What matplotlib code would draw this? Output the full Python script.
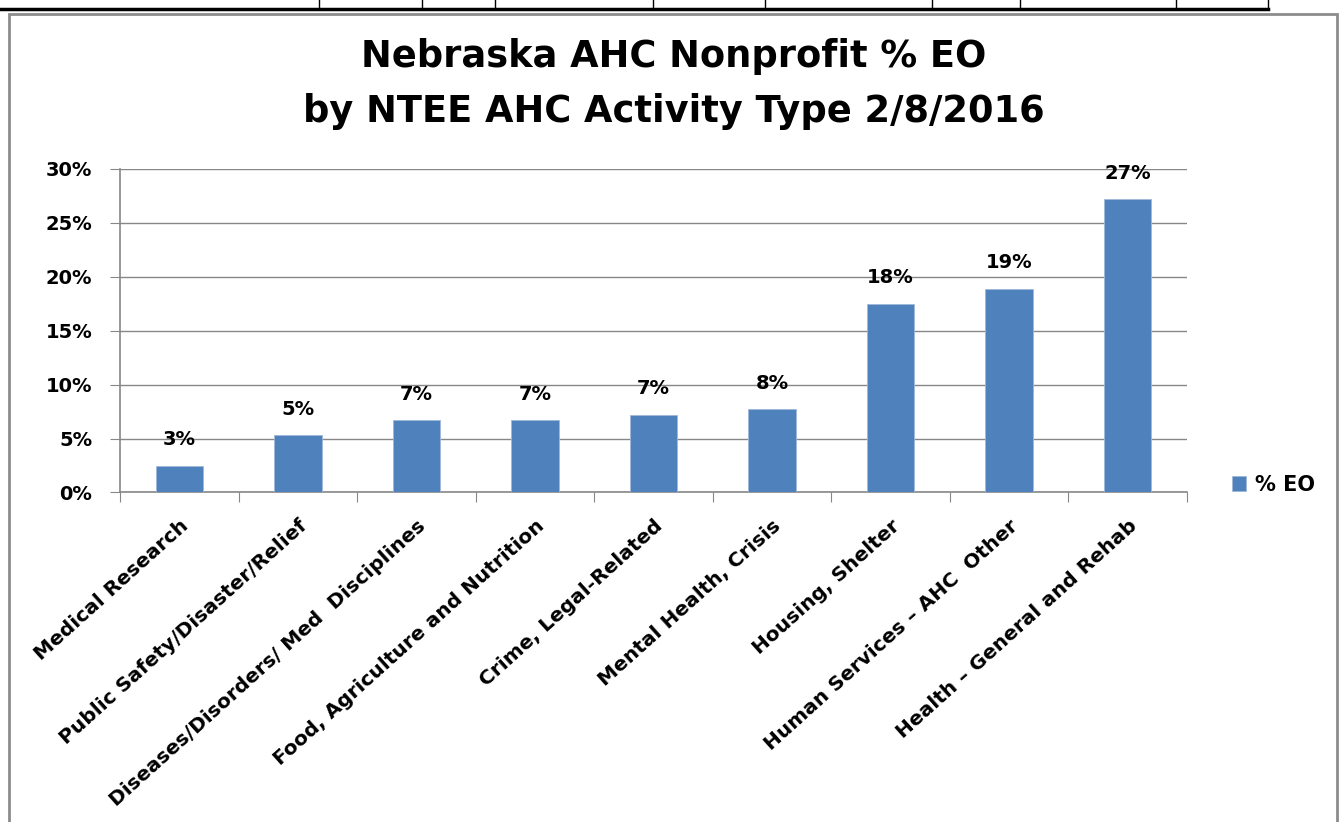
import matplotlib
matplotlib.use('Agg')
from matplotlib import pyplot as plt
from matplotlib.lines import Line2D
from matplotlib.patches import Rectangle
from matplotlib.ticker import FuncFormatter, MultipleLocator

CATEGORIES = ['Medical Research', 'Public Safety/Disaster/Relief',
              'Diseases/Disorders/ Med  Disciplines', 'Food, Agriculture and Nutrition',
              'Crime, Legal-Related', 'Mental Health, Crisis', 'Housing, Shelter',
              'Human Services \u2013 AHC  Other', 'Health \u2013 General and Rehab']
PCT_EO = [2.5, 5.3, 6.7, 6.7, 7.2, 7.7, 17.5, 18.9, 27.2]
BAR_LABELS = ['3%', '5%', '7%', '7%', '7%', '8%', '18%', '19%', '27%']
TITLE = ['Nebraska AHC Nonprofit % EO', 'by NTEE AHC Activity Type 2/8/2016']

BAR_COLOR = '#4F81BD'
GRID_COLOR = '#878787'

plt.rcParams['font.family'] = ['DejaVu Sans']


def draw_frame(fig):
    # spreadsheet cell lines above the chart
    fig.add_artist(Line2D([0, 1268 / 1344], [1 - 9 / 822, 1 - 9 / 822],
                          color='black', lw=2.5, transform=fig.transFigure))
    for x in [319, 422, 495, 653, 765, 932, 1020, 1176, 1268]:
        fig.add_artist(Line2D([x / 1344, x / 1344], [1, 1 - 9 / 822],
                              color='black', lw=1, transform=fig.transFigure))
    # chart border
    fig.add_artist(Rectangle((9 / 1344, -0.05), 1328 / 1344, 1.05 - 14 / 822,
                             fill=False, edgecolor='#8c8c8c', lw=2,
                             transform=fig.transFigure))


def plot(categories, values, labels):
    fig = plt.figure(figsize=(13.44, 8.22), dpi=100)
    draw_frame(fig)
    ax = fig.add_axes([120 / 1344, 1 - 492.5 / 822, (1187 - 120) / 1344, 323.5 / 822])

    xs = range(len(categories))
    bars = ax.bar(xs, values, width=0.4, color=BAR_COLOR, edgecolor='#9fb8d8',
                  lw=0.6, zorder=3, label='% EO')
    for bar, text in zip(bars, labels):
        ax.annotate(text, (bar.get_x() + bar.get_width() / 2, bar.get_height()),
                    xytext=(0, 12), textcoords='offset points', ha='center',
                    va='bottom', fontsize=14, fontweight='bold')

    ax.set_xlim(-0.5, len(categories) - 0.5)
    ax.set_ylim(0, 30)
    ax.yaxis.set_major_locator(MultipleLocator(5))
    ax.yaxis.set_major_formatter(FuncFormatter(lambda v, p: '%d%%' % v))
    ax.grid(axis='y', color=GRID_COLOR, lw=1, zorder=0)

    ax.set_xticks([x - 0.5 for x in range(len(categories) + 1)], minor=False)
    ax.set_xticklabels([])
    ax.set_xticks(list(xs), minor=True)
    ax.set_xticklabels(categories, minor=True, rotation=42, ha='right',
                       rotation_mode='anchor', fontsize=14.5, fontweight='bold')
    ax.tick_params(axis='x', which='minor', length=0, pad=17)
    ax.tick_params(axis='x', which='major', length=7, color=GRID_COLOR)
    ax.tick_params(axis='y', length=7, color=GRID_COLOR, labelsize=14, pad=13)
    for lab in ax.get_yticklabels():
        lab.set_fontweight('bold')

    for side in ['top', 'right']:
        ax.spines[side].set_visible(False)
    for side in ['left', 'bottom']:
        ax.spines[side].set_color(GRID_COLOR)
        ax.spines[side].set_linewidth(1.2)

    for line, base in zip(TITLE, [67, 122]):
        fig.text(674 / 1344, 1 - base / 822, line, ha='center', va='baseline',
                 fontsize=26.5, fontweight='bold')

    fig.legend(handles=[bars], labels=['% EO'], loc='center left',
               bbox_to_anchor=(1213 / 1344, 1 - 485 / 822), frameon=False,
               prop={'size': 15, 'weight': 'bold'}, handlelength=0.7,
               handleheight=0.7, handletextpad=0.4)

    fig.savefig('out.png', dpi=100)


if __name__ == '__main__':
    plot(CATEGORIES, PCT_EO, BAR_LABELS)
